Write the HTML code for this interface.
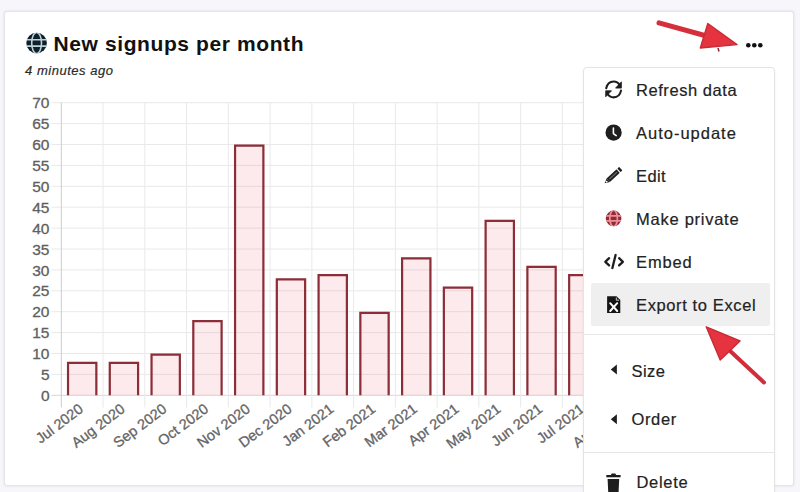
<!DOCTYPE html>
<html><head><meta charset="utf-8">
<style>
html,body{margin:0;padding:0;width:800px;height:492px;overflow:hidden;background:#f6f6fb;font-family:"Liberation Sans",sans-serif;}
.card{position:absolute;left:4px;top:11px;width:790px;height:475px;background:#fff;border:1px solid #e4e4ec;border-radius:3px;box-sizing:border-box;box-shadow:0 0 2px 1px rgba(0,0,40,0.05);}
.title{position:absolute;left:53.5px;top:32px;font-size:21px;font-weight:bold;color:#111;letter-spacing:0.6px;white-space:nowrap;}
.sub{position:absolute;left:25px;top:63px;font-size:13px;letter-spacing:0.52px;font-style:italic;color:#2a2a2a;-webkit-text-stroke:0.2px #2a2a2a;white-space:nowrap;}
svg.chart{position:absolute;left:0;top:0;}
.yl{font-family:"Liberation Sans",sans-serif;font-size:15.5px;fill:#606060;stroke:#606060;stroke-width:0.3px;}
.xl{font-family:"Liberation Sans",sans-serif;font-size:14.5px;fill:#646464;stroke:#646464;stroke-width:0.3px;}
.menu{position:absolute;left:583px;top:67px;width:192px;height:440px;background:#fff;border:1.5px solid #e4e4e4;border-radius:4px;box-sizing:border-box;box-shadow:0 1px 3px rgba(0,0,0,0.06);}
.item{position:absolute;font-size:16.5px;color:#222;white-space:nowrap;-webkit-text-stroke:0.2px #222;}
.hl{position:absolute;left:591px;top:283px;width:179px;height:43px;background:#efefef;border-radius:2px;}
.sep{position:absolute;left:584px;width:190px;height:1px;background:#e6e6e6;}
.ic{position:absolute;}
</style></head><body>
<div class="card"></div>
<svg class="chart" width="800" height="492" viewBox="0 0 800 492">
<line x1="51.5" y1="395.30" x2="770" y2="395.30" stroke="#d6d6d6" stroke-width="1"/>
<text x="49.5" y="400.90" text-anchor="end" class="yl">0</text>
<line x1="51.5" y1="374.40" x2="770" y2="374.40" stroke="#e9e9e9" stroke-width="1"/>
<text x="49.5" y="380.00" text-anchor="end" class="yl">5</text>
<line x1="51.5" y1="353.50" x2="770" y2="353.50" stroke="#e9e9e9" stroke-width="1"/>
<text x="49.5" y="359.10" text-anchor="end" class="yl">10</text>
<line x1="51.5" y1="332.60" x2="770" y2="332.60" stroke="#e9e9e9" stroke-width="1"/>
<text x="49.5" y="338.20" text-anchor="end" class="yl">15</text>
<line x1="51.5" y1="311.70" x2="770" y2="311.70" stroke="#e9e9e9" stroke-width="1"/>
<text x="49.5" y="317.30" text-anchor="end" class="yl">20</text>
<line x1="51.5" y1="290.80" x2="770" y2="290.80" stroke="#e9e9e9" stroke-width="1"/>
<text x="49.5" y="296.40" text-anchor="end" class="yl">25</text>
<line x1="51.5" y1="269.90" x2="770" y2="269.90" stroke="#e9e9e9" stroke-width="1"/>
<text x="49.5" y="275.50" text-anchor="end" class="yl">30</text>
<line x1="51.5" y1="249.00" x2="770" y2="249.00" stroke="#e9e9e9" stroke-width="1"/>
<text x="49.5" y="254.60" text-anchor="end" class="yl">35</text>
<line x1="51.5" y1="228.10" x2="770" y2="228.10" stroke="#e9e9e9" stroke-width="1"/>
<text x="49.5" y="233.70" text-anchor="end" class="yl">40</text>
<line x1="51.5" y1="207.20" x2="770" y2="207.20" stroke="#e9e9e9" stroke-width="1"/>
<text x="49.5" y="212.80" text-anchor="end" class="yl">45</text>
<line x1="51.5" y1="186.30" x2="770" y2="186.30" stroke="#e9e9e9" stroke-width="1"/>
<text x="49.5" y="191.90" text-anchor="end" class="yl">50</text>
<line x1="51.5" y1="165.40" x2="770" y2="165.40" stroke="#e9e9e9" stroke-width="1"/>
<text x="49.5" y="171.00" text-anchor="end" class="yl">55</text>
<line x1="51.5" y1="144.50" x2="770" y2="144.50" stroke="#e9e9e9" stroke-width="1"/>
<text x="49.5" y="150.10" text-anchor="end" class="yl">60</text>
<line x1="51.5" y1="123.60" x2="770" y2="123.60" stroke="#e9e9e9" stroke-width="1"/>
<text x="49.5" y="129.20" text-anchor="end" class="yl">65</text>
<line x1="51.5" y1="102.70" x2="770" y2="102.70" stroke="#e9e9e9" stroke-width="1"/>
<text x="49.5" y="108.30" text-anchor="end" class="yl">70</text>
<line x1="61.30" y1="102.70" x2="61.30" y2="407.5" stroke="#cccccc" stroke-width="1"/>
<line x1="103.06" y1="102.70" x2="103.06" y2="407.5" stroke="#e9e9e9" stroke-width="1"/>
<line x1="144.82" y1="102.70" x2="144.82" y2="407.5" stroke="#e9e9e9" stroke-width="1"/>
<line x1="186.58" y1="102.70" x2="186.58" y2="407.5" stroke="#e9e9e9" stroke-width="1"/>
<line x1="228.34" y1="102.70" x2="228.34" y2="407.5" stroke="#e9e9e9" stroke-width="1"/>
<line x1="270.10" y1="102.70" x2="270.10" y2="407.5" stroke="#e9e9e9" stroke-width="1"/>
<line x1="311.86" y1="102.70" x2="311.86" y2="407.5" stroke="#e9e9e9" stroke-width="1"/>
<line x1="353.62" y1="102.70" x2="353.62" y2="407.5" stroke="#e9e9e9" stroke-width="1"/>
<line x1="395.38" y1="102.70" x2="395.38" y2="407.5" stroke="#e9e9e9" stroke-width="1"/>
<line x1="437.14" y1="102.70" x2="437.14" y2="407.5" stroke="#e9e9e9" stroke-width="1"/>
<line x1="478.90" y1="102.70" x2="478.90" y2="407.5" stroke="#e9e9e9" stroke-width="1"/>
<line x1="520.66" y1="102.70" x2="520.66" y2="407.5" stroke="#e9e9e9" stroke-width="1"/>
<line x1="562.42" y1="102.70" x2="562.42" y2="407.5" stroke="#e9e9e9" stroke-width="1"/>
<line x1="604.18" y1="102.70" x2="604.18" y2="407.5" stroke="#e9e9e9" stroke-width="1"/>
<line x1="645.94" y1="102.70" x2="645.94" y2="407.5" stroke="#e9e9e9" stroke-width="1"/>
<line x1="687.70" y1="102.70" x2="687.70" y2="407.5" stroke="#e9e9e9" stroke-width="1"/>
<line x1="729.46" y1="102.70" x2="729.46" y2="407.5" stroke="#e9e9e9" stroke-width="1"/>
<rect x="66.93" y="361.86" width="30.50" height="33.44" fill="rgba(232,64,84,0.11)"/>
<path d="M68.03 395.30 V362.96 H96.33 V395.30" fill="none" stroke="#8c2e38" stroke-width="2.2"/>
<rect x="108.69" y="361.86" width="30.50" height="33.44" fill="rgba(232,64,84,0.11)"/>
<path d="M109.79 395.30 V362.96 H138.09 V395.30" fill="none" stroke="#8c2e38" stroke-width="2.2"/>
<rect x="150.45" y="353.50" width="30.50" height="41.80" fill="rgba(232,64,84,0.11)"/>
<path d="M151.55 395.30 V354.60 H179.85 V395.30" fill="none" stroke="#8c2e38" stroke-width="2.2"/>
<rect x="192.21" y="320.06" width="30.50" height="75.24" fill="rgba(232,64,84,0.11)"/>
<path d="M193.31 395.30 V321.16 H221.61 V395.30" fill="none" stroke="#8c2e38" stroke-width="2.2"/>
<rect x="233.97" y="144.50" width="30.50" height="250.80" fill="rgba(232,64,84,0.11)"/>
<path d="M235.07 395.30 V145.60 H263.37 V395.30" fill="none" stroke="#8c2e38" stroke-width="2.2"/>
<rect x="275.73" y="278.26" width="30.50" height="117.04" fill="rgba(232,64,84,0.11)"/>
<path d="M276.83 395.30 V279.36 H305.13 V395.30" fill="none" stroke="#8c2e38" stroke-width="2.2"/>
<rect x="317.49" y="274.08" width="30.50" height="121.22" fill="rgba(232,64,84,0.11)"/>
<path d="M318.59 395.30 V275.18 H346.89 V395.30" fill="none" stroke="#8c2e38" stroke-width="2.2"/>
<rect x="359.25" y="311.70" width="30.50" height="83.60" fill="rgba(232,64,84,0.11)"/>
<path d="M360.35 395.30 V312.80 H388.65 V395.30" fill="none" stroke="#8c2e38" stroke-width="2.2"/>
<rect x="401.01" y="257.36" width="30.50" height="137.94" fill="rgba(232,64,84,0.11)"/>
<path d="M402.11 395.30 V258.46 H430.41 V395.30" fill="none" stroke="#8c2e38" stroke-width="2.2"/>
<rect x="442.77" y="286.62" width="30.50" height="108.68" fill="rgba(232,64,84,0.11)"/>
<path d="M443.87 395.30 V287.72 H472.17 V395.30" fill="none" stroke="#8c2e38" stroke-width="2.2"/>
<rect x="484.53" y="219.74" width="30.50" height="175.56" fill="rgba(232,64,84,0.11)"/>
<path d="M485.63 395.30 V220.84 H513.93 V395.30" fill="none" stroke="#8c2e38" stroke-width="2.2"/>
<rect x="526.29" y="265.72" width="30.50" height="129.58" fill="rgba(232,64,84,0.11)"/>
<path d="M527.39 395.30 V266.82 H555.69 V395.30" fill="none" stroke="#8c2e38" stroke-width="2.2"/>
<rect x="568.05" y="274.08" width="30.50" height="121.22" fill="rgba(232,64,84,0.11)"/>
<path d="M569.15 395.30 V275.18 H597.45 V395.30" fill="none" stroke="#8c2e38" stroke-width="2.2"/>
<rect x="609.81" y="249.00" width="30.50" height="146.30" fill="rgba(232,64,84,0.11)"/>
<path d="M610.91 395.30 V250.10 H639.21 V395.30" fill="none" stroke="#8c2e38" stroke-width="2.2"/>
<text transform="translate(81.18,407) rotate(-37)" text-anchor="end" dominant-baseline="central" class="xl">Jul 2020</text>
<text transform="translate(122.94,407) rotate(-37)" text-anchor="end" dominant-baseline="central" class="xl">Aug 2020</text>
<text transform="translate(164.70,407) rotate(-37)" text-anchor="end" dominant-baseline="central" class="xl">Sep 2020</text>
<text transform="translate(206.46,407) rotate(-37)" text-anchor="end" dominant-baseline="central" class="xl">Oct 2020</text>
<text transform="translate(248.22,407) rotate(-37)" text-anchor="end" dominant-baseline="central" class="xl">Nov 2020</text>
<text transform="translate(289.98,407) rotate(-37)" text-anchor="end" dominant-baseline="central" class="xl">Dec 2020</text>
<text transform="translate(331.74,407) rotate(-37)" text-anchor="end" dominant-baseline="central" class="xl">Jan 2021</text>
<text transform="translate(373.50,407) rotate(-37)" text-anchor="end" dominant-baseline="central" class="xl">Feb 2021</text>
<text transform="translate(415.26,407) rotate(-37)" text-anchor="end" dominant-baseline="central" class="xl">Mar 2021</text>
<text transform="translate(457.02,407) rotate(-37)" text-anchor="end" dominant-baseline="central" class="xl">Apr 2021</text>
<text transform="translate(498.78,407) rotate(-37)" text-anchor="end" dominant-baseline="central" class="xl">May 2021</text>
<text transform="translate(540.54,407) rotate(-37)" text-anchor="end" dominant-baseline="central" class="xl">Jun 2021</text>
<text transform="translate(582.30,407) rotate(-37)" text-anchor="end" dominant-baseline="central" class="xl">Jul 2021</text>
<text transform="translate(624.06,407) rotate(-37)" text-anchor="end" dominant-baseline="central" class="xl">Aug 2021</text>
</svg>
<svg class="ic" style="left:0;top:0" width="60" height="60" viewBox="0 0 60 60">
<defs><clipPath id="gc"><circle cx="36.6" cy="43" r="10.3"/></clipPath></defs>
<circle cx="36.6" cy="43" r="10.3" fill="#10202a"/>
<g clip-path="url(#gc)" stroke="#bcd3dc" stroke-width="1.6" fill="none">
<ellipse cx="36.6" cy="43" rx="4.9" ry="10.6"/>
<line x1="25" y1="39.7" x2="48" y2="39.7"/>
<line x1="25" y1="46.1" x2="48" y2="46.1"/>
</g>
</svg>
<div class="title">New signups per month</div>
<div class="sub">4 minutes ago</div>
<svg class="ic" style="left:0;top:0" width="800" height="60" viewBox="0 0 800 60">
<circle cx="748.3" cy="45.2" r="2.3" fill="#111"/><circle cx="754.3" cy="45.2" r="2.3" fill="#111"/><circle cx="760.3" cy="45.2" r="2.3" fill="#111"/>
</svg>
<div class="menu"></div>
<div class="hl"></div>
<div class="sep" style="top:333.5px"></div>
<div class="sep" style="top:451.5px"></div>
<div class="item" style="top:80.7px;left:636.0px;letter-spacing:0.56px">Refresh data</div>
<div class="item" style="top:123.7px;left:636.0px;letter-spacing:0.99px">Auto-update</div>
<div class="item" style="top:166.7px;left:636.0px;letter-spacing:0.39px">Edit</div>
<div class="item" style="top:209.7px;left:636.0px;letter-spacing:0.74px">Make private</div>
<div class="item" style="top:252.7px;left:636.0px;letter-spacing:0.87px">Embed</div>
<div class="item" style="top:295.7px;left:636.0px;letter-spacing:0.62px">Export to Excel</div>
<div class="item" style="top:361.7px;left:631.5px;letter-spacing:0.45px">Size</div>
<div class="item" style="top:409.9px;left:631.5px;letter-spacing:0.64px">Order</div>
<div class="item" style="top:472.7px;left:636.4px;letter-spacing:0.72px">Delete</div>
<!-- menu icons (page coords) -->
<svg class="ic" style="left:0;top:0" width="800" height="492" viewBox="0 0 800 492">
<!-- refresh -->
<g fill="none" stroke="#1e1e1e" stroke-width="2.1" stroke-linecap="round">
<path d="M606.2 88.3 Q607.6 81.6 613.6 81.5 Q617.6 81.5 619.8 85.2"/>
<path d="M621 90.6 Q619.6 97.3 613.6 97.4 Q609.6 97.4 607.4 93.8"/>
</g>
<g fill="#1e1e1e" stroke="#1e1e1e" stroke-width="0.8" stroke-linejoin="round">
<polygon points="621.4,81.8 621.4,88.1 615.6,88.1"/>
<polygon points="605.7,96.8 605.7,90.8 611.5,90.8"/>
</g>
<!-- clock -->
<circle cx="613.6" cy="132.6" r="8.1" fill="#1e1e1e"/>
<path d="M613.4 128 V133.6 L616.2 135.6" fill="none" stroke="#fff" stroke-width="1.6" stroke-linecap="round" stroke-linejoin="round"/>
<!-- pencil -->
<g transform="translate(613,175.8) rotate(-42.5)">
<rect x="-6.5" y="-2.4" width="13.6" height="4.8" fill="#1e1e1e"/>
<rect x="-5" y="-0.6" width="10.5" height="1.2" fill="#707070"/>
<polygon points="-6.5,-2.4 -11.2,0 -6.5,2.4" fill="#1e1e1e"/>
<circle cx="-8.6" cy="0" r="0.9" fill="#fff"/>
<rect x="7.1" y="-2.6" width="1" height="5.2" fill="#fff"/>
<rect x="8.1" y="-2.4" width="2.4" height="4.8" fill="#1e1e1e" rx="0.5"/>
</g>
<!-- red globe -->
<defs><clipPath id="rg"><circle cx="613.6" cy="218.4" r="7.8"/></clipPath></defs>
<circle cx="613.6" cy="218.4" r="7.8" fill="#8e2c37"/>
<g clip-path="url(#rg)" stroke="#ee8f99" stroke-width="1.7" fill="none">
<ellipse cx="613.6" cy="218.4" rx="3.8" ry="8.2"/>
<line x1="604" y1="215.9" x2="623" y2="215.9"/>
<line x1="604" y1="220.9" x2="623" y2="220.9"/>
</g>
<!-- code -->
<g fill="none" stroke="#1e1e1e" stroke-width="2.3" stroke-linecap="round" stroke-linejoin="round">
<polyline points="609.1,258.2 605.3,261.8 609.1,265.4"/>
<polyline points="619.1,258.2 622.9,261.8 619.1,265.4"/>
<line x1="615.6" y1="255" x2="612.4" y2="268"/>
</g>
<!-- excel file -->
<path d="M607.1 296.2 H616.5 L620.3 300 V313.1 H607.1 Z" fill="#151515"/>
<path d="M616.3 297.5 V300.2 H619" fill="none" stroke="#ddd" stroke-width="0.9"/>
<g stroke="#fff" stroke-width="2" stroke-linecap="round">
<line x1="610.2" y1="303.2" x2="617.2" y2="311"/>
<line x1="617.2" y1="303.2" x2="610.2" y2="311"/>
</g>
<!-- carets -->
<polygon points="610.8,369.4 616.9,364.4 616.9,374.4" fill="#1e1e1e"/>
<polygon points="610.8,419.3 616.9,414.3 616.9,424.3" fill="#1e1e1e"/>
<!-- trash -->
<path d="M606.3 475 H620.6 V477.3 H606.3 Z" fill="#1e1e1e"/>
<path d="M610.8 475 L611.8 473.6 H615.2 L616.2 475 Z" fill="#1e1e1e"/>
<path d="M607.6 479 H619.2 L618.4 496 H608.4 Z" fill="#1e1e1e"/>
</svg>
<!-- arrows -->
<svg class="ic" style="left:0;top:0" width="800" height="492" viewBox="0 0 800 492">
<g fill="#e5333f" stroke="#c72b37" stroke-linejoin="round">
<line x1="659" y1="22.8" x2="712" y2="37.5" stroke-width="5" stroke="#d52f3b" stroke-linecap="round"/>
<polygon points="707.8,23.5 737,44.6 700.3,48" stroke-width="1.4"/>
<line x1="718" y1="48" x2="719" y2="51.5" stroke="#8a2a35" stroke-width="1.5"/>
<line x1="764" y1="382.5" x2="728" y2="349" stroke-width="4" stroke="#cf2e3a" stroke-linecap="round"/>
<polygon points="706.2,326.8 740,341 720.2,360" stroke-width="1.4"/>
</g>
</svg>
</body></html>
